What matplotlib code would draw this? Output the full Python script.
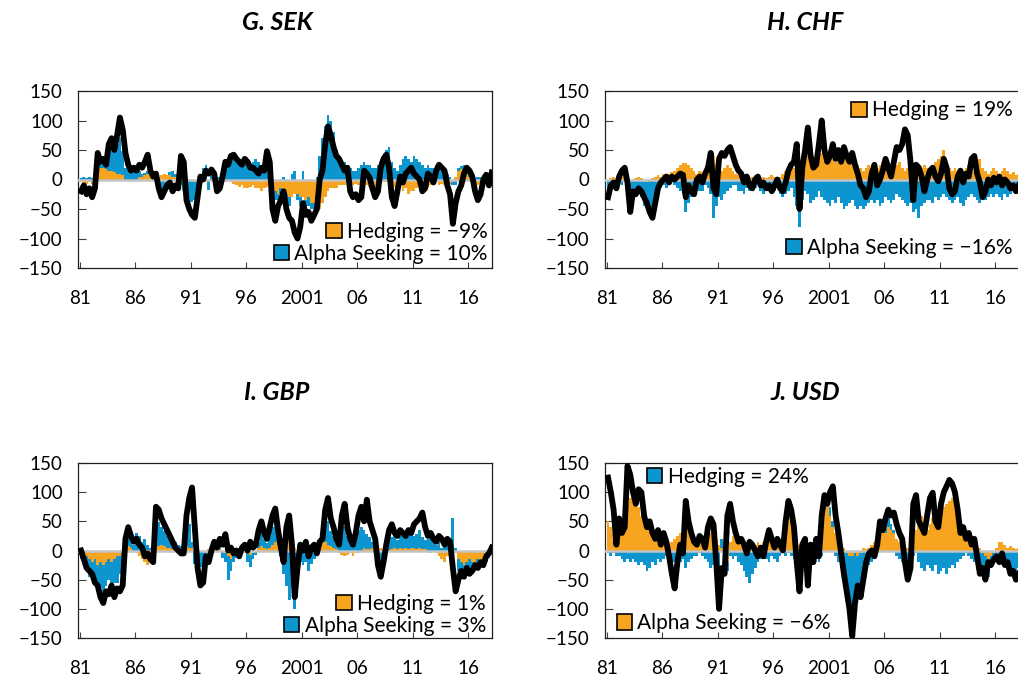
import numpy as np
import matplotlib
matplotlib.use("Agg")
import matplotlib.pyplot as plt
from matplotlib.patches import Patch

plt.rcParams['font.family'] = ['Lato', 'DejaVu Sans']

ORANGE = '#F7A521'
BLUE = '#0D95D0'

START_YEAR = 1981
tick_years = [1981, 1986, 1991, 1996, 2001, 2006, 2011, 2016]
tick_labels = ['81', '86', '91', '96', '2001', '06', '11', '16']
y_ticks = [-150, -100, -50, 0, 50, 100, 150]

# ---------------- G. SEK (quarterly, 1981Q1 ..) ----------------
sek_total = [
    -20, -10, -25, -15,   -30, -15, 45, 30,   35, 25, 60, 70,   50, 75, 105, 85,
    45, 25, 15, 20,   15, 25, 20, 30,   42, 15, 5, 10,   -15, -30, -20, -10,
    -5, -20, -10, -15,   40, 30, -35, -50,   -60, -65, -30, 5,   0, 15, 10, 17,
    10, -20, -15, 5,   30, 25, 40, 42,   35, 30, 25, 35,   30, 20, 20, 15,
    10, 20, 15, 48,   30, -50, -70, -45,   -35, -20, -50, -65,   -70, -90, -100, -80,
    -40, -60, -55, -70,   -60, -50, 0, 15,   60, 90, 75, 55,   40, 35, 25, 15,
    20, -20, -30, -25,   -35, -30, 15, 10,   3, -15, -30, -20,   20, 35, 42, 20,
    -30, -45, -20, 5,   -5, 10, 15, 20,   10, 5, 0, -20,   -15, 10, 5, -5,
    15, 25, 20, 15,   -10, -25, -75, -40,   -20, -10, 10, 20,   15, 5, -20, -35,
    -25, 0, 8, -10,   12]
sek_hedging = [
    -5, -8, -8, -5,   -8, -5, 15, 20,   20, 18, 15, 15,   12, 10, 10, 8,
    -3, -3, -5, -3,   -3, 5, 5, 8,   10, 10, 8, 5,   5, 8, 10, 8,
    8, 5, 5, 3,   3, 5, 3, -3,   -3, -5, -3, -3,   -3, -5, -3, -3,
    -5, -10, -8, -5,   -5, -3, -5, -8,   -10, -12, -10, -15,   -15, -12, -10, -15,
    -15, -20, -15, -12,   -10, -15, -20, -25,   -15, -20, -25, -30,   -30, -25, -25, -30,
    -30, -35, -30, -40,   -40, -55, -50, -40,   -30, -20, -15, -15,   -15, -10, -10, -10,
    -5, -10, -10, -8,   -10, -8, -5, -10,   -12, -10, -15, -10,   -10, -5, -5, -8,
    -10, -12, -15, -10,   -20, -15, -25, -20,   -20, -15, -10, -15,   -10, -15, -10, -8,
    -5, -10, -8, -10,   -10, -8, -5, 5,   15, 18, 15, 10,   5, -5, -8, -10,
    -8, -5, -5, -3,   -5]
sek_alpha = [
    3, 5, 3, 5,   3, 5, 20, 15,   15, 25, 40, 45,   35, 50, 60, 40,
    20, 25, 20, 15,   15, 10, 5, 3,   5, 3, -3, -10,   -20, -25, -15, -10,
    5, 10, 5, -5,   -10, -20, -25, -35,   -35, -30, -15, 10,   20, 25, -15, 10,
    10, -10, 5, 15,   25, 35, 40, 35,   30, 35, 30, 25,   30, 25, 30, 35,
    30, 25, 30, 35,   20, -10, -15, -10,   -10, 5, -10, -15,   10, 15, -10, -15,
    15, -10, -15, -10,   -10, 5, 40, 70,   90, 110, 100, 80,   50, 40, 30, 30,
    25, 20, 15, 15,   20, 25, 30, 25,   25, 20, 20, 25,   30, 40, 50, 55,
    30, 20, 15, 25,   35, 40, 35, 30,   40, 35, 30, 25,   20, 25, 20, 20,
    25, 20, 15, 10,   10, 5, -5, -10,   5, 5, 10, 8,   5, 5, 3, 5,
    5, 8, 5, 5,   5]

# ---------------- H. CHF ----------------
chf_total = [
    -30, -10, -5, -15,   5, 15, 20, -5,   -55, -20, -25, -15,   -20, -30, -40, -55,
    -65, -40, -15, -5,   0, 5, -5, 5,   0, 5, 10, 8,   -30, -10, -20, -25,
    0, 5, -5, 10,   20, 45, -15, -25,   35, 45, 40, 50,   55, 40, 25, 15,
    10, -5, 5, -10,   -15, 0, 5, -10,   -5, -15, -10, -20,   -10, 0, -15, -20,
    -5, 15, 25, 30,   60, -50, 20, 50,   88, 40, 20, 25,   60, 100, 50, 30,
    40, 60, 35, 50,   30, 55, 40, 30,   45, 25, 10, -10,   -15, -30, -20, 10,
    25, -10, 0, 15,   35, 20, 5, 30,   55, 50, 60, 85,   75, 30, -35, 25,
    20, 5, -20, 0,   15, 20, 5, -3,   10, 35, 20, -15,   -25, -20, 5, 15,
    -5, 10, 5, 35,   40, 10, -5, -30,   -20, 0, -10, 3,   -5, 5, -10, 0,
    -5, -15, -10, -20,   -10]
chf_hedging = [
    0, 3, 5, 3,   5, 5, 8, 5,   -5, -3, 3, 5,   3, -5, -5, -3,
    3, 5, 8, 5,   10, 8, 10, 12,   15, 20, 25, 28,   28, 25, 20, 15,
    10, 15, 12, 10,   15, 30, 40, 25,   20, 15, 20, 25,   20, 15, 10, 8,
    5, 8, 5, 3,   5, 8, 5, 3,   5, 3, 5, 8,   5, 3, 5, 10,
    15, 20, 25, 20,   25, 20, 25, 35,   40, 30, 25, 30,   35, 45, 40, 35,
    40, 35, 30, 40,   45, 40, 35, 30,   35, 30, 25, 20,   15, 20, 25, 20,
    15, 20, 25, 30,   25, 20, 15, 20,   25, 30, 20, 15,   20, 25, 15, 10,
    15, 20, 25, 20,   15, 20, 30, 35,   40, 50, 30, 20,   15, 20, 15, 10,
    15, 20, 25, 20,   15, 25, 35, 20,   15, 10, 15, 20,   15, 10, 15, 20,
    15, 10, 12, 8,   10]
chf_alpha = [
    -20, -10, -5, -10,   -5, -10, -5, -20,   -45, -15, -20, -25,   -30, -40, -45, -50,
    -50, -30, -15, -10,   -10, -15, -10, -5,   -10, -15, -20, -25,   -55, -40, -30, -25,
    -15, -20, -20, -10,   -15, -25, -65, -45,   -30, -35, -25, -20,   -15, -10, -10, -20,
    -20, -25, -15, -20,   -20, -15, -10, -20,   -25, -20, -15, -25,   -20, -15, -25, -30,
    -25, -20, -15, -30,   -45, -80, -35, -20,   -25, -40, -35, -30,   -20, -30, -35, -40,
    -45, -35, -40, -30,   -40, -50, -45, -40,   -35, -45, -50, -45,   -50, -45, -40, -35,
    -40, -35, -45, -40,   -30, -35, -40, -35,   -25, -30, -35, -40,   -45, -40, -55, -50,
    -65, -45, -40, -35,   -35, -40, -30, -35,   -30, -25, -30, -35,   -40, -35, -30, -40,
    -45, -35, -30, -25,   -30, -35, -40, -30,   -35, -30, -25, -30,   -25, -30, -35, -25,
    -30, -25, -20, -25,   -20]

# ---------------- I. GBP ----------------
gbp_total = [
    0, -15, -30, -35,   -40, -55, -60, -80,   -90, -70, -75, -60,   -80, -65, -70, -60,
    20, 40, 25, 15,   20, 10, 5, -10,   -5, -15, -20, 75,   70, 55, 45, 35,
    25, 15, 5, 0,   -5, -5, 60, 90,   108, 40, -30, -60,   -55, -10, -20, 0,
    15, 5, 20, 10,   28, 0, 5, -5,   0, -10, 5, 10,   0, 15, 5, 10,
    35, 50, 30, 20,   40, 60, 72, 35,   5, -20, 40, 60,   10, -80, -30, 10,
    0, 15, -10, 5,   10, -5, 15, 20,   70, 90, 55, 40,   20, 10, 60, 80,
    40, 20, 10, 30,   60, 75, 50, 87,   50, 35, 20, -25,   -45, -20, 10, 35,
    45, 30, 25, 35,   30, 25, 35, 30,   45, 50, 55, 65,   40, 25, 30, 20,
    15, 25, 20, 10,   20, 15, -30, -70,   -50, -35, -45, -30,   -40, -35, -25, -30,
    -20, -25, -10, -5,   5]
gbp_hedging = [
    -5, -8, -10, -15,   -20, -15, -25, -20,   -25, -20, -15, -20,   -15, -10, -10, -5,
    5, 8, 5, -3,   -5, -10, -15, -20,   -25, -20, -15, 5,   8, 10, 8, 5,
    5, 3, 5, 5,   3, 5, 8, 5,   5, -3, -5, -3,   -3, -5, 3, 5,
    3, 5, 3, -3,   -5, -10, -15, -10,   -8, -5, -3, -5,   -5, -8, -5, -3,
    5, 8, 5, 3,   5, 10, 15, 10,   5, 10, 20, 40,   20, 5, -5, 5,
    5, 3, -5, -3,   5, 10, 15, 20,   15, 10, 8, 5,   3, -5, -8, -10,
    -8, -5, -10, -5,   -5, -3, 5, 3,   3, 5, 3, 5,   5, 3, -5, -3,
    3, 5, 3, 5,   3, 5, 3, 5,   5, 3, 5, 3,   3, -3, -5, -3,
    -5, -10, -15, -20,   -10, -15, -10, -5,   -15, -20, -25, -20,   -15, -20, -25, -15,
    -20, -25, -15, -10,   -5]
gbp_alpha = [
    -10, -15, -20, -30,   -30, -40, -35, -45,   -50, -40, -35, -45,   -40, -45, -30, -20,
    10, 20, 15, 10,   30, 25, 15, 20,   10, 5, 5, 30,   40, 30, 25, 20,
    15, 20, 10, 5,   5, 10, 30, 40,   10, -20, -30, -25,   -20, -15, -10, 5,
    5, 10, 5, -10,   -15, -40, -20, -10,   -5, -10, 5, 3,   -15, -20, -10, -5,
    10, 20, 15, 10,   20, 30, 40, 20,   -10, -40, -60, -85,   -60, -100, -40, -20,
    -25, -20, -30, -20,   -15, -10, 5, 10,   30, 40, 25, 20,   15, 20, 30, 40,
    25, 20, 15, 30,   35, 40, 30, 25,   20, 10, -10, -25,   -30, -15, 5, 15,
    20, 25, 15, 20,   25, 20, 25, 30,   20, 25, 30, 20,   15, 20, 25, 15,
    10, 15, 5, 10,   15, 20, 55, 5,   -20, -15, -10, -15,   -20, -15, -10, -15,
    -10, -5, -5, -3,   3]

# ---------------- J. USD ----------------
usd_total = [
    125, 100, 70, 10,   55, 30, 40, 145,   130, 100, 80, 105,   100, 60, 40, 50,
    30, 20, 35, 10,   30, 15, -10, -40,   -65, -20, 10, -5,   85, 50, 30, 15,
    10, 25, 20, 5,   40, 55, 45, -20,   -100, -30, -40, 60,   80, 50, 30, 15,
    20, 10, -5, 15,   10, 0, -10, 5,   -10, 15, 35, 20,   5, 20, 10, 0,
    50, 85, 70, 40,   -20, -70, 10, 20,   -60, 10, -20, 20,   -10, 60, 95, 80,
    100, 110, 60, 30,   -5, -40, -70, -100,   -147, -90, -60, -80,   -50, -20, -5, 0,
    -10, 10, 50, 35,   55, 70, 60, 65,   45, 30, 20, -20,   -50, -30, 80, 95,
    50, 40, 30, 60,   90, 99, 50, 40,   80, 100, 110, 121,   115, 100, 70, 30,
    40, 20, 30, 10,   20, -10, -40, -30,   -50, -20, -25, -15,   -10, -20, -5, -25,
    -20, -40, -35, -50,   -40]
usd_alpha = [   # drawn in orange (legend: Alpha Seeking)
    50, 40, 30, 20,   40, 50, 60, 80,   90, 100, 90, 75,   60, 65, 50, 40,
    35, 30, 25, 20,   20, 15, 10, 15,   20, 25, 30, 60,   85, 40, 30, 20,
    15, 20, 25, 20,   25, 30, 35, 20,   10, 5, -5, -20,   15, 25, 30, 20,
    10, 15, 5, 10,   5, 10, 15, 10,   15, 20, 30, 25,   20, 15, 10, 20,
    40, 70, 80, 40,   20, 10, 15, 10,   5, 10, 15, 20,   30, 50, 70, 80,
    60, 40, 30, 20,   10, 5, -5, -10,   -10, -5, -10, -5,   5, 3, 5, 10,
    15, 25, 30, 35,   30, 40, 35, 30,   20, 15, 10, 5,   5, 10, 20, 35,
    50, 60, 40, 35,   45, 55, 60, 70,   65, 75, 80, 85,   90, 80, 60, 50,
    40, 30, 25, 20,   15, 10, 5, -5,   -10, -15, -10, -5,   5, 15, 15, 10,
    5, 8, 5, 3,   5]
usd_hedging = [   # drawn in blue (legend: Hedging)
    -5, -10, -5, -10,   -10, -15, -20, -15,   -20, -15, -20, -25,   -20, -25, -35, -30,
    -20, -25, -15, -20,   -15, -10, -15, -20,   -20, -25, -20, -15,   -30, -20, -15, -10,
    -10, -5, -10, -15,   -20, -30, -25, -40,   -30, 15, 10, -15,   -10, -15, -10, -20,
    -25, -35, -45, -55,   -40, -30, -20, -15,   -10, -15, -20, -10,   -15, -20, -10, -5,
    -10, -5, -10, -15,   -20, -15, -10, -20,   -25, -15, -10, -15,   -20, -10, 5, 10,
    15, 10, -10, -20,   -30, -45, -60, -75,   -100, -80, -60, -50,   -40, -30, -25, -20,
    -15, 5, 10, 15,   15, 20, 10, 5,   -10, -15, -20, -25,   -20, -15, -10, -5,
    -20, -30, -35, -25,   -30, -35, -25, -40,   -35, -30, -40, -30,   -25, -30, -20, -15,
    -10, -5, -10, -15,   -20, -15, -25, -30,   -25, -30, -20, -15,   -10, -20, -25, -15,
    -20, -30, -35, -40,   -30]

panels = [
    dict(title='G. SEK', rect=[78, 268, 414, 177], tx=277, ty=22,
         total=sek_total, orange=sek_hedging, blue=sek_alpha,
         legends=[(ORANGE, 'Hedging = \u22129%', 'center right', (0.99, 0.205)),
                  (BLUE, 'Alpha Seeking = 10%', 'center right', (0.99, 0.08))]),
    dict(title='H. CHF', rect=[605, 268, 414, 177], tx=805, ty=22,
         total=chf_total, orange=chf_hedging, blue=chf_alpha,
         legends=[(ORANGE, 'Hedging = 19%', 'center right', (0.985, 0.89)),
                  (BLUE, 'Alpha Seeking = \u221216%', 'center right', (0.985, 0.113))]),
    dict(title='I. GBP', rect=[78, 638, 414, 175], tx=277, ty=392,
         total=gbp_total, orange=gbp_hedging, blue=gbp_alpha,
         legends=[(ORANGE, 'Hedging = 1%', 'center right', (0.985, 0.194)),
                  (BLUE, 'Alpha Seeking = 3%', 'center right', (0.985, 0.069))]),
    dict(title='J. USD', rect=[605, 638, 414, 175], tx=805, ty=392,
         total=usd_total, orange=usd_alpha, blue=usd_hedging,
         legends=[(BLUE, 'Hedging = 24%', 'center left', (0.1007, 0.922)),
                  (ORANGE, 'Alpha Seeking = \u22126%', 'center left', (0.028, 0.084))]),
]

W, H = 1018, 681
fig = plt.figure(figsize=(W / 100, H / 100), dpi=100)

for p in panels:
    l, b, w, h = p['rect']
    ax = fig.add_axes([l / W, 1 - b / H, w / W, h / H])
    o = np.array(p['orange'], dtype=float)
    bl = np.array(p['blue'], dtype=float)
    tot = np.array(p['total'], dtype=float)
    xo = START_YEAR + 0.25 * np.arange(len(o))
    xb = START_YEAR + 0.25 * np.arange(len(bl))
    xt = START_YEAR + 0.25 * np.arange(len(tot)) + 0.125
    n = min(len(o), len(bl))
    bottom_b = np.zeros(len(bl))
    same = np.sign(bl[:n]) == np.sign(o[:n])
    bottom_b[:n] = np.where(same, o[:n], 0)
    ax.bar(xo, o, width=0.25, align='edge', color=ORANGE, linewidth=0, zorder=2)
    ax.bar(xb, bl, bottom=bottom_b, width=0.25, align='edge', color=BLUE, linewidth=0, zorder=2)
    ax.axhline(0, color='#C4C4C4', lw=1.8, zorder=3)
    ax.plot(xt, tot, color='black', lw=4.2, zorder=4, solid_joinstyle='round')

    ax.set_xlim(1980.85, 2018.15)
    ax.set_ylim(-150, 150)
    ax.set_xticks(tick_years)
    ax.set_xticklabels(tick_labels)
    ax.set_yticks(y_ticks)
    ax.set_yticklabels([str(v).replace('-', '\u2212') for v in y_ticks])
    ax.tick_params(axis='both', direction='in', labelsize=13.5, width=0.8, color='#404040')
    ax.tick_params(axis='x', length=4, pad=15.5)
    ax.tick_params(axis='y', length=6, pad=11)
    for s in ax.spines.values():
        s.set_linewidth(0.9)
        s.set_color('#202020')

    first = None
    for color, label, loc, anchor in p['legends']:
        lg = ax.legend(handles=[Patch(facecolor=color, edgecolor='black', linewidth=1.2)],
                       labels=[label], loc=loc, bbox_to_anchor=anchor,
                       frameon=False, fontsize=15, handlelength=0.75, handleheight=0.75,
                       handletextpad=0.25, borderpad=0, borderaxespad=0)
        if first is not None:
            ax.add_artist(first)
        first = lg

    fig.text(p['tx'] / W, 1 - p['ty'] / H, p['title'], ha='center', va='center',
             fontsize=18, fontweight='bold', fontstyle='italic')

fig.savefig('out.png', dpi=100)
